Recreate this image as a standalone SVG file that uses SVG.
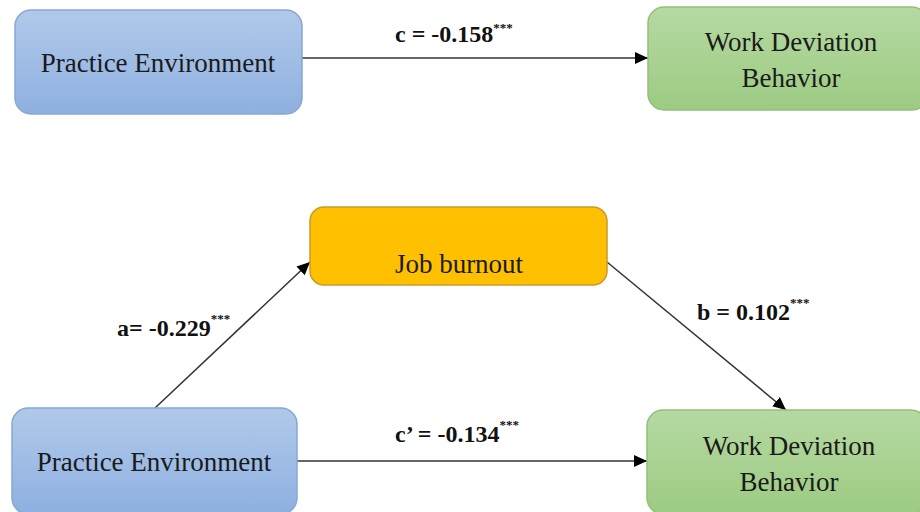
<svg xmlns="http://www.w3.org/2000/svg" width="920" height="512" viewBox="0 0 920 512">
  <defs>
    <linearGradient id="blueFill" x1="0" y1="0" x2="0" y2="1">
      <stop offset="0" stop-color="#b0c9ea"/>
      <stop offset="1" stop-color="#8eb0e0"/>
    </linearGradient>
    <linearGradient id="greenFill" x1="0" y1="0" x2="0" y2="1">
      <stop offset="0" stop-color="#b6d9a2"/>
      <stop offset="1" stop-color="#9ccb82"/>
    </linearGradient>
    <marker id="arrow" viewBox="0 0 13 12" refX="13" refY="6" markerWidth="13" markerHeight="12" markerUnits="userSpaceOnUse" orient="auto">
      <path d="M0,0 L13,6 L0,12 z" fill="#000"/>
    </marker>
    <style>
      .blue { fill: url(#blueFill); stroke: #86a7d4; stroke-width: 1.5; }
      .green { fill: url(#greenFill); stroke: #92c07a; stroke-width: 1.5; }
      .orange { fill: #ffc000; stroke: #c99a2e; stroke-width: 1.5; }
      .edge { stroke: #333; stroke-width: 1.5; fill: none; marker-end: url(#arrow); }
      .serif { font-family: 'Liberation Serif', 'Times New Roman', 'DejaVu Serif', serif; }
    </style>
  </defs>
  <rect width="920" height="512" fill="#ffffff"/>

  <!-- connectors -->
  <g id="connectors">
    <line class="edge" x1="302" y1="58" x2="648" y2="58"/>
    <line class="edge" x1="155" y1="408" x2="310" y2="262"/>
    <line class="edge" x1="607" y1="262" x2="786" y2="410"/>
    <line class="edge" x1="297" y1="461" x2="647" y2="461"/>
    <g class="serif" font-size="24" font-weight="bold" fill="#111">
      <text x="395" y="42">c = -0.158<tspan font-size="13" dy="-10">***</tspan></text>
      <text x="117" y="336">a= -0.229<tspan font-size="13" dy="-13">***</tspan></text>
      <text x="697" y="320">b = 0.102<tspan font-size="13" dy="-13">***</tspan></text>
      <text x="395" y="442">c’ = -0.134<tspan font-size="13" dy="-13">***</tspan></text>
    </g>
  </g>

  <g class="serif" font-size="27" fill="#1a1a1a" text-anchor="middle">
    <!-- top path: practice environment to work deviation behavior -->
    <g id="pe-top">
      <rect class="blue" x="15" y="10" width="287" height="104" rx="16"/>
      <text x="158" y="72">Practice Environment</text>
    </g>
    <g id="wdb-top">
      <rect class="green" x="648" y="7" width="280" height="103" rx="16"/>
      <text x="791" y="51">Work Deviation</text>
      <text x="791" y="87">Behavior</text>
    </g>

    <!-- mediation model -->
    <g id="burnout">
      <rect class="orange" x="310" y="207" width="297" height="78" rx="14"/>
      <text x="459" y="273">Job burnout</text>
    </g>
    <g id="pe-bottom">
      <rect class="blue" x="12" y="408" width="285" height="106" rx="16"/>
      <text x="154" y="471">Practice Environment</text>
    </g>
    <g id="wdb-bottom">
      <rect class="green" x="647" y="410" width="280" height="104" rx="16"/>
      <text x="789" y="455">Work Deviation</text>
      <text x="789" y="491">Behavior</text>
    </g>
  </g>
</svg>
